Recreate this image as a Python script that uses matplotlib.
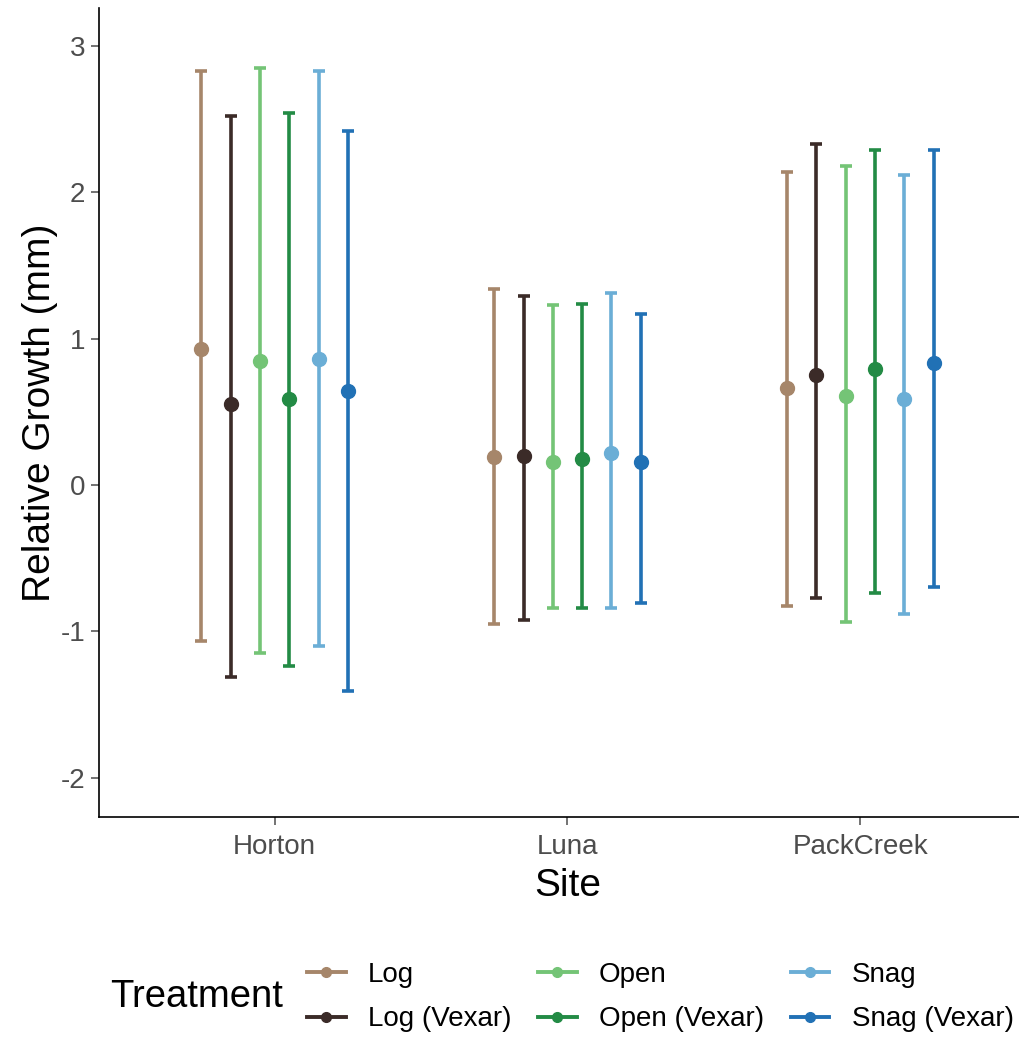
import matplotlib
matplotlib.use("Agg")
import matplotlib.pyplot as plt
from matplotlib.lines import Line2D
import numpy as np

plt.rcParams['font.family'] = ['Liberation Sans', 'DejaVu Sans']
plt.rcParams['axes.unicode_minus'] = False

sites = ["Horton", "Luna", "PackCreek"]
treatments = ["Log", "Log (Vexar)", "Open", "Open (Vexar)", "Snag", "Snag (Vexar)"]
colors = ["#a6866a", "#3b2b28", "#74c476", "#238b45", "#6baed6", "#2171b5"]

# mean, upper, lower for each treatment, per site (Horton, Luna, PackCreek)
means = {
    "Log":          [0.93, 0.19, 0.66],
    "Log (Vexar)":  [0.55, 0.20, 0.75],
    "Open":         [0.85, 0.16, 0.61],
    "Open (Vexar)": [0.59, 0.18, 0.79],
    "Snag":         [0.86, 0.22, 0.59],
    "Snag (Vexar)": [0.64, 0.16, 0.83],
}
upper = {
    "Log":          [2.83, 1.34, 2.14],
    "Log (Vexar)":  [2.52, 1.29, 2.33],
    "Open":         [2.85, 1.23, 2.18],
    "Open (Vexar)": [2.54, 1.24, 2.29],
    "Snag":         [2.83, 1.31, 2.12],
    "Snag (Vexar)": [2.42, 1.17, 2.29],
}
lower = {
    "Log":          [-1.07, -0.95, -0.83],
    "Log (Vexar)":  [-1.31, -0.92, -0.77],
    "Open":         [-1.15, -0.84, -0.94],
    "Open (Vexar)": [-1.24, -0.84, -0.74],
    "Snag":         [-1.10, -0.84, -0.88],
    "Snag (Vexar)": [-1.41, -0.81, -0.70],
}

W, H = 1020, 1040
fig = plt.figure(figsize=(W / 100, H / 100), dpi=100)
# panel runs past the right edge, like the cropped original
ax = fig.add_axes([99 / W, 1 - 817 / H, (1036 - 99) / W, (817 - 8) / H])

x = np.arange(1, len(sites) + 1)
dodge = 0.1
for i, (t, c) in enumerate(zip(treatments, colors)):
    xs = x + (i - 2.5) * dodge
    m = np.array(means[t])
    lo = np.array(lower[t])
    hi = np.array(upper[t])
    ax.errorbar(xs, m, yerr=[m - lo, hi - m], fmt="o", color=c, ms=10,
                elinewidth=2.6, capsize=4, capthick=2.6, zorder=3)

ax.set_xlim(0.4, 3.6)
ax.set_ylim(-2.27, 3.26)
ax.set_xticks(x)
ax.set_xticklabels(sites)
ax.set_yticks([-2, -1, 0, 1, 2, 3])
ax.tick_params(axis="both", colors="#4d4d4d", labelsize=20, length=6, width=1.1)
ax.tick_params(axis="x", pad=6)
ax.tick_params(axis="y", pad=4)
for s in ["top", "right"]:
    ax.spines[s].set_visible(False)
for s in ["left", "bottom"]:
    ax.spines[s].set_linewidth(1.2)
    ax.spines[s].set_color("black")
ax.set_xlabel("Site", fontsize=28, labelpad=6)
ax.set_ylabel("Relative Growth (mm)", fontsize=28, labelpad=2)

handles = [Line2D([0], [0], color=c, marker="o", ms=7, lw=2.8) for c in colors]
fig.legend(handles, treatments, loc="center left", ncol=3,
           bbox_to_anchor=(293 / W, 1 - 997 / H), frameon=False, borderpad=0,
           fontsize=20, handlelength=1.4, handletextpad=0.8,
           columnspacing=0.95, labelspacing=0.68)
fig.text(110 / W, 1 - 997 / H, "Treatment", fontsize=27.5, va="center", ha="left")

fig.savefig("out.png", dpi=100)
